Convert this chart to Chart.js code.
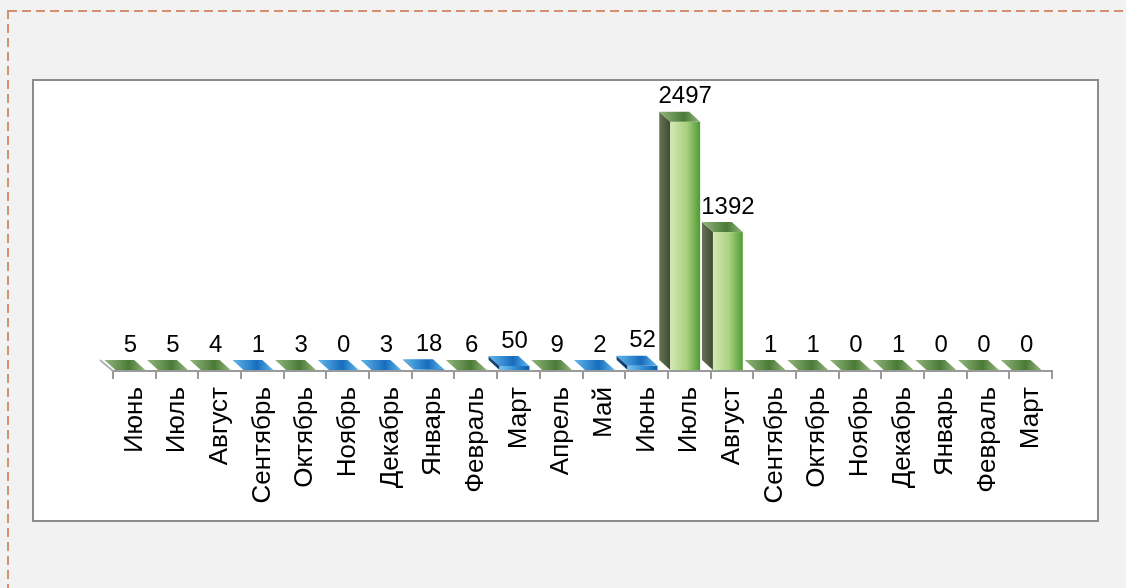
<!DOCTYPE html>
<html>
<head>
<meta charset="utf-8">
<script src="https://cdn.jsdelivr.net/npm/chart.js@4.4.1/dist/chart.umd.min.js"></script>
<style>
    html, body { margin: 0; padding: 0; background: #f2f2f2; overflow: hidden; }
    #page { position: absolute; left: 0; top: 0; width: 1126px; height: 588px; }
    .dash-h { position: absolute; left: 8px; top: 10px; width: 1120px; height: 2px;
        background: repeating-linear-gradient(90deg, #d4906c 0 9px, transparent 9px 14px); }
    .dash-v { position: absolute; left: 7px; top: 10px; width: 2px; height: 580px;
        background: repeating-linear-gradient(180deg, #d4906c 0 9px, transparent 9px 14px); }
    #box { position: absolute; left: 32px; top: 79px; width: 1063px; height: 439px; background: #fff; border: 2px solid #8c8c8c; }
    #wrap { position: absolute; left: 0; top: 0; width: 1126px; height: 588px; }
</style>
</head>
<body>
<div id="page">
    <div class="dash-h"></div>
    <div class="dash-v"></div>
    <div id="box"></div>
    <div id="wrap"><canvas id="chart"></canvas></div>
</div>
<script>
document.addEventListener('DOMContentLoaded', function() {
    // Данные графика
    const months = ['Июнь', 'Июль', 'Август', 'Сентябрь', 'Октябрь', 'Ноябрь', 'Декабрь', 'Январь',
        'Февраль', 'Март', 'Апрель', 'Май', 'Июнь', 'Июль', 'Август', 'Сентябрь', 'Октябрь',
        'Ноябрь', 'Декабрь', 'Январь', 'Февраль', 'Март'];
    const counts = [5, 5, 4, 1, 3, 0, 3, 18, 6, 50, 9, 2, 52, 2497, 1392, 1, 1, 0, 1, 0, 0, 0];

    // Цвет каждого столбика: g - зелёный, b - синий
    const tones = ['g', 'g', 'g', 'b', 'g', 'b', 'b', 'b', 'g', 'b', 'g', 'b', 'b', 'g', 'g',
        'g', 'g', 'g', 'g', 'g', 'g', 'g'];

    const palette = {
        g: { front: ['#d3e9b4', '#a9d07e', '#4f9b34'], side: ['#667356', '#3e4b31'], top: ['#93b67e', '#4a7a36'] },
        b: { front: ['#7cc4ee', '#2b8ad2', '#0e58a8'], side: ['#1c4f86', '#0d3462'], top: ['#62b8ec', '#176cbd'] }
    };

    const depthX = 11, depthY = 10, shift = -4;
    const font = "'Liberation Sans', Arial, sans-serif";

    // Псевдо-3D столбики поверх элементов Chart.js
    const bars3d = {
        id: 'bars3d',
        afterDatasetsDraw(chart) {
            const ctx = chart.ctx;
            const meta = chart.getDatasetMeta(0);
            const area = chart.chartArea;
            ctx.save();
            // левый край "пола"
            ctx.strokeStyle = '#b0b0b0';
            ctx.lineWidth = 2;
            ctx.beginPath();
            ctx.moveTo(area.left, area.bottom);
            ctx.lineTo(area.left - depthX - 2, area.bottom - depthY - 1);
            ctx.stroke();

            meta.data.forEach(function(bar, i) {
                const p = palette[tones[i]];
                const half = bar.width / 2;
                const xl = bar.x + shift - half;
                const xr = bar.x + shift + half;
                const top = Math.min(bar.y, bar.base - 1);
                const base = bar.base - 1;

                // левая грань
                let g = ctx.createLinearGradient(xl - depthX, 0, xl, 0);
                g.addColorStop(0, p.side[0]);
                g.addColorStop(1, p.side[1]);
                ctx.fillStyle = g;
                ctx.beginPath();
                ctx.moveTo(xl, top);
                ctx.lineTo(xl - depthX, top - depthY);
                ctx.lineTo(xl - depthX, base - depthY);
                ctx.lineTo(xl, base);
                ctx.closePath();
                ctx.fill();

                // передняя грань
                g = ctx.createLinearGradient(xl, 0, xr, 0);
                g.addColorStop(0, p.front[0]);
                g.addColorStop(0.55, p.front[1]);
                g.addColorStop(1, p.front[2]);
                ctx.fillStyle = g;
                ctx.fillRect(xl, top, xr - xl, base - top);

                // верхняя грань
                g = ctx.createLinearGradient(xl - depthX, 0, xr, 0);
                g.addColorStop(0, p.top[0]);
                g.addColorStop(0.6, p.top[1]);
                g.addColorStop(1, p.top[0]);
                ctx.fillStyle = g;
                ctx.beginPath();
                ctx.moveTo(xl, top);
                ctx.lineTo(xr, top);
                ctx.lineTo(xr - depthX, top - depthY);
                ctx.lineTo(xl - depthX, top - depthY);
                ctx.closePath();
                ctx.fill();

                // подпись значения
                ctx.fillStyle = '#000';
                ctx.font = '24px ' + font;
                ctx.textAlign = 'center';
                ctx.textBaseline = 'middle';
                ctx.fillText(String(counts[i]), bar.x + shift, top - 25);
            });
            ctx.restore();
        }
    };

    new Chart(document.getElementById('chart').getContext('2d'), {
        type: 'bar',
        data: {
            labels: months,
            datasets: [{
                data: counts,
                backgroundColor: 'rgba(0,0,0,0)',
                borderWidth: 0,
                barPercentage: 0.7,
                categoryPercentage: 1
            }]
        },
        options: {
            responsive: true,
            maintainAspectRatio: false,
            animation: false,
            events: [],
            layout: {
                padding: { left: 113, right: 74, top: 101.5, bottom: 69 }
            },
            plugins: {
                legend: { display: false },
                tooltip: { enabled: false }
            },
            scales: {
                y: {
                    display: false,
                    min: 0,
                    max: 2700
                },
                x: {
                    afterFit: function(scale) { scale.height = 148; },
                    border: { display: true, color: '#9a9a9a', width: 2 },
                    grid: {
                        offset: true,
                        drawOnChartArea: false,
                        drawTicks: true,
                        tickLength: 8,
                        color: '#9a9a9a',
                        lineWidth: 2
                    },
                    ticks: {
                        minRotation: 90,
                        maxRotation: 90,
                        autoSkip: false,
                        padding: 8,
                        color: '#000',
                        font: { family: font, size: 26 }
                    }
                }
            }
        },
        plugins: [bars3d]
    });
});
</script>
</body>
</html>
